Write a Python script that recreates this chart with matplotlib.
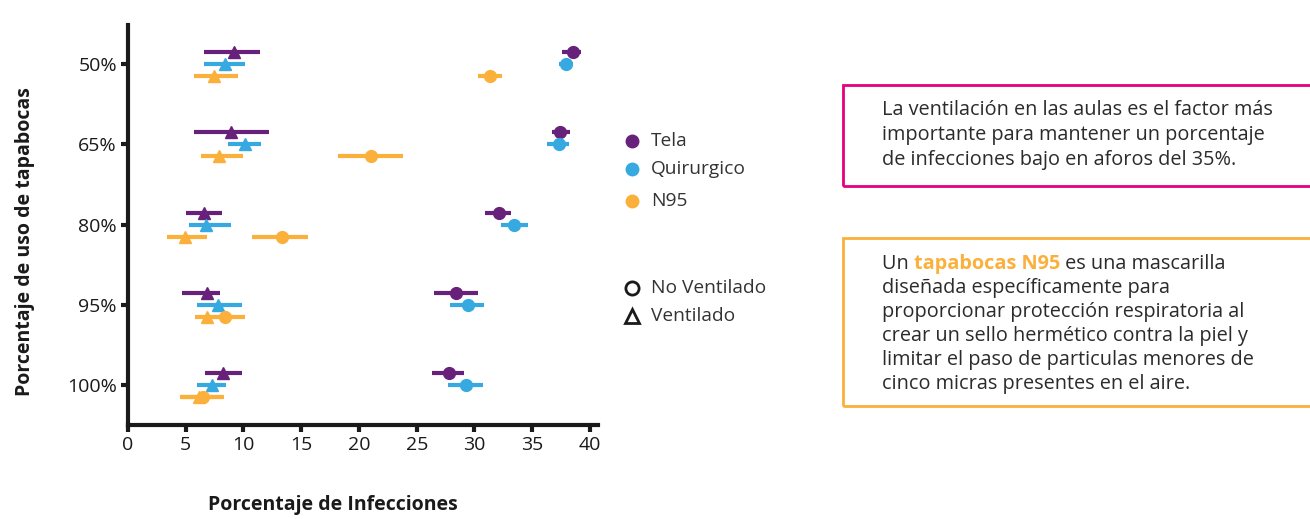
import matplotlib
matplotlib.use("Agg")
import matplotlib.pyplot as plt
from matplotlib.lines import Line2D
from matplotlib.patches import Rectangle
from matplotlib.text import Annotation
import numpy as np

plt.rcParams['font.family'] = ['Open Sans', 'DejaVu Sans']

categories = ['50%', '65%', '80%', '95%', '100%']
series = ['Tela', 'Quirurgico', 'N95']
colors = ['#68217A', '#36A9E1', '#FBB03B']

# No Ventilado (circle)
tela_nv = [38.5, 37.4, 32.1, 28.4, 27.8]
tela_nv_lo = [37.6, 36.7, 30.9, 26.5, 26.3]
tela_nv_hi = [39.2, 38.25, 33.2, 30.3, 29.1]
quir_nv = [37.9, 37.3, 33.4, 29.4, 29.25]
quir_nv_lo = [37.3, 36.3, 32.3, 27.9, 27.7]
quir_nv_hi = [38.5, 38.2, 34.6, 30.8, 30.7]
n95_nv = [31.35, 21.0, 13.36, 8.36, 6.5]
n95_nv_lo = [30.3, 18.2, 10.75, 6.8, 4.5]
n95_nv_hi = [32.4, 23.8, 15.6, 10.1, 8.3]
# Ventilado (triangle)
tela_v = [9.16, 8.88, 6.55, 6.84, 8.25]
tela_v_lo = [6.6, 5.7, 5.0, 4.7, 6.7]
tela_v_hi = [11.4, 12.2, 8.1, 8.0, 9.9]
quir_v = [8.36, 10.09, 6.75, 7.8, 7.3]
quir_v_lo = [6.6, 8.65, 5.26, 5.95, 6.0]
quir_v_hi = [10.1, 11.5, 8.9, 9.9, 8.5]
n95_v = [7.44, 7.84, 4.97, 6.84, 6.15]
n95_v_lo = [5.7, 6.3, 3.4, 5.8, 4.6]
n95_v_hi = [9.5, 10.0, 6.8, 9.0, 8.0]

nv = [(tela_nv, tela_nv_lo, tela_nv_hi), (quir_nv, quir_nv_lo, quir_nv_hi), (n95_nv, n95_nv_lo, n95_nv_hi)]
v = [(tela_v, tela_v_lo, tela_v_hi), (quir_v, quir_v_lo, quir_v_hi), (n95_v, n95_v_lo, n95_v_hi)]
offsets = [-0.15, 0.0, 0.15]

W, H = 1310, 519
fig = plt.figure(figsize=(W / 100, H / 100), dpi=100)
ax = fig.add_axes([128 / W, 1 - 425 / H, (598 - 128) / W, (425 - 25) / H])

y = np.arange(len(categories))
for i in range(3):
    yy = y + offsets[i]
    for data, mk, ms in [(v[i], '^', 9), (nv[i], 'o', 8.5)]:
        c, lo, hi = (np.array(a) for a in data)
        ax.hlines(yy, lo, hi, color=colors[i], lw=3.0, zorder=2)
        ax.plot(c, yy, ls='none', marker=mk, ms=ms, color=colors[i], zorder=3)

ax.set_xlim(0, 40.7)
ax.set_ylim(4.5, -0.49)
ax.set_yticks(y)
ax.set_yticklabels(categories)
ax.set_xticks(np.arange(0, 41, 5))
for s in ['top', 'right']:
    ax.spines[s].set_visible(False)
for s in ['left', 'bottom']:
    ax.spines[s].set_linewidth(3)
    ax.spines[s].set_color('#1a1a1a')
ax.tick_params(axis='both', width=3, length=5, color='#1a1a1a', labelsize=14, labelcolor='#1a1a1a', pad=3)


def fx(px):
    return px / W


def fy(py):
    return 1 - py / H


fig.text(fx(333), fy(505), 'Porcentaje de Infecciones', fontsize=14, fontweight='bold', color='#1a1a1a',
         ha='center', va='center')
fig.text(fx(25), fy(242), 'Porcentaje de uso de tapabocas', fontsize=14, fontweight='bold', color='#1a1a1a',
         ha='center', va='center', rotation=90)

# Legend (manual)
leg_items = [('Tela', colors[0], 141), ('Quirurgico', colors[1], 169), ('N95', colors[2], 201)]
for lab, col, py in leg_items:
    fig.add_artist(Line2D([fx(632)], [fy(py)], marker='o', ms=9, color=col, ls='none', transform=fig.transFigure))
    fig.text(fx(651), fy(py), lab, fontsize=13.8, color='#333333', va='center', ha='left')
for lab, mk, py in [('No Ventilado', 'o', 288), ('Ventilado', '^', 316)]:
    fig.add_artist(Line2D([fx(632)], [fy(py)], marker=mk, ms=9.5, mfc='white', mec='#1a1a1a', mew=2,
                          ls='none', transform=fig.transFigure))
    fig.text(fx(651), fy(py), lab, fontsize=13.8, color='#333333', va='center', ha='left')

# Text boxes
fig.add_artist(Rectangle((fx(843), fy(186)), fx(1320 - 843), (186 - 85) / H, fill=False, ec='#E6007E', lw=2,
                         transform=fig.transFigure, clip_on=False))
fig.add_artist(Rectangle((fx(843), fy(406)), fx(1320 - 843), (406 - 238) / H, fill=False, ec='#FBB03B', lw=2,
                         transform=fig.transFigure, clip_on=False))

txt_col = '#2b2b2b'
fs_box = 14.3
box1 = ['La ventilación en las aulas es el factor más',
        'importante para mantener un porcentaje',
        'de infecciones bajo en aforos del 35%.']
for k, line in enumerate(box1):
    fig.text(fx(882), fy(110 + 25 * k), line, fontsize=fs_box, color=txt_col, va='center', ha='left')

box2 = ['diseñada específicamente para',
        'proporcionar protección respiratoria al',
        'crear un sello hermético contra la piel y',
        'limitar el paso de particulas menores de',
        'cinco micras presentes en el aire.']
t1 = fig.text(fx(882), fy(264), 'Un ', fontsize=fs_box, color=txt_col, va='center', ha='left')
ann2 = Annotation('tapabocas N95', xy=(1, 0), xycoords=t1, va='bottom', ha='left', fontsize=fs_box,
                  color='#FBB03B', fontweight='bold')
fig.add_artist(ann2)
ann3 = Annotation(' es una mascarilla', xy=(1, 0), xycoords=ann2, va='bottom', ha='left', fontsize=fs_box,
                  color=txt_col)
fig.add_artist(ann3)
for k, line in enumerate(box2):
    fig.text(fx(882), fy(288 + 24 * k), line, fontsize=fs_box, color=txt_col, va='center', ha='left')

fig.savefig('out.png', dpi=100)
